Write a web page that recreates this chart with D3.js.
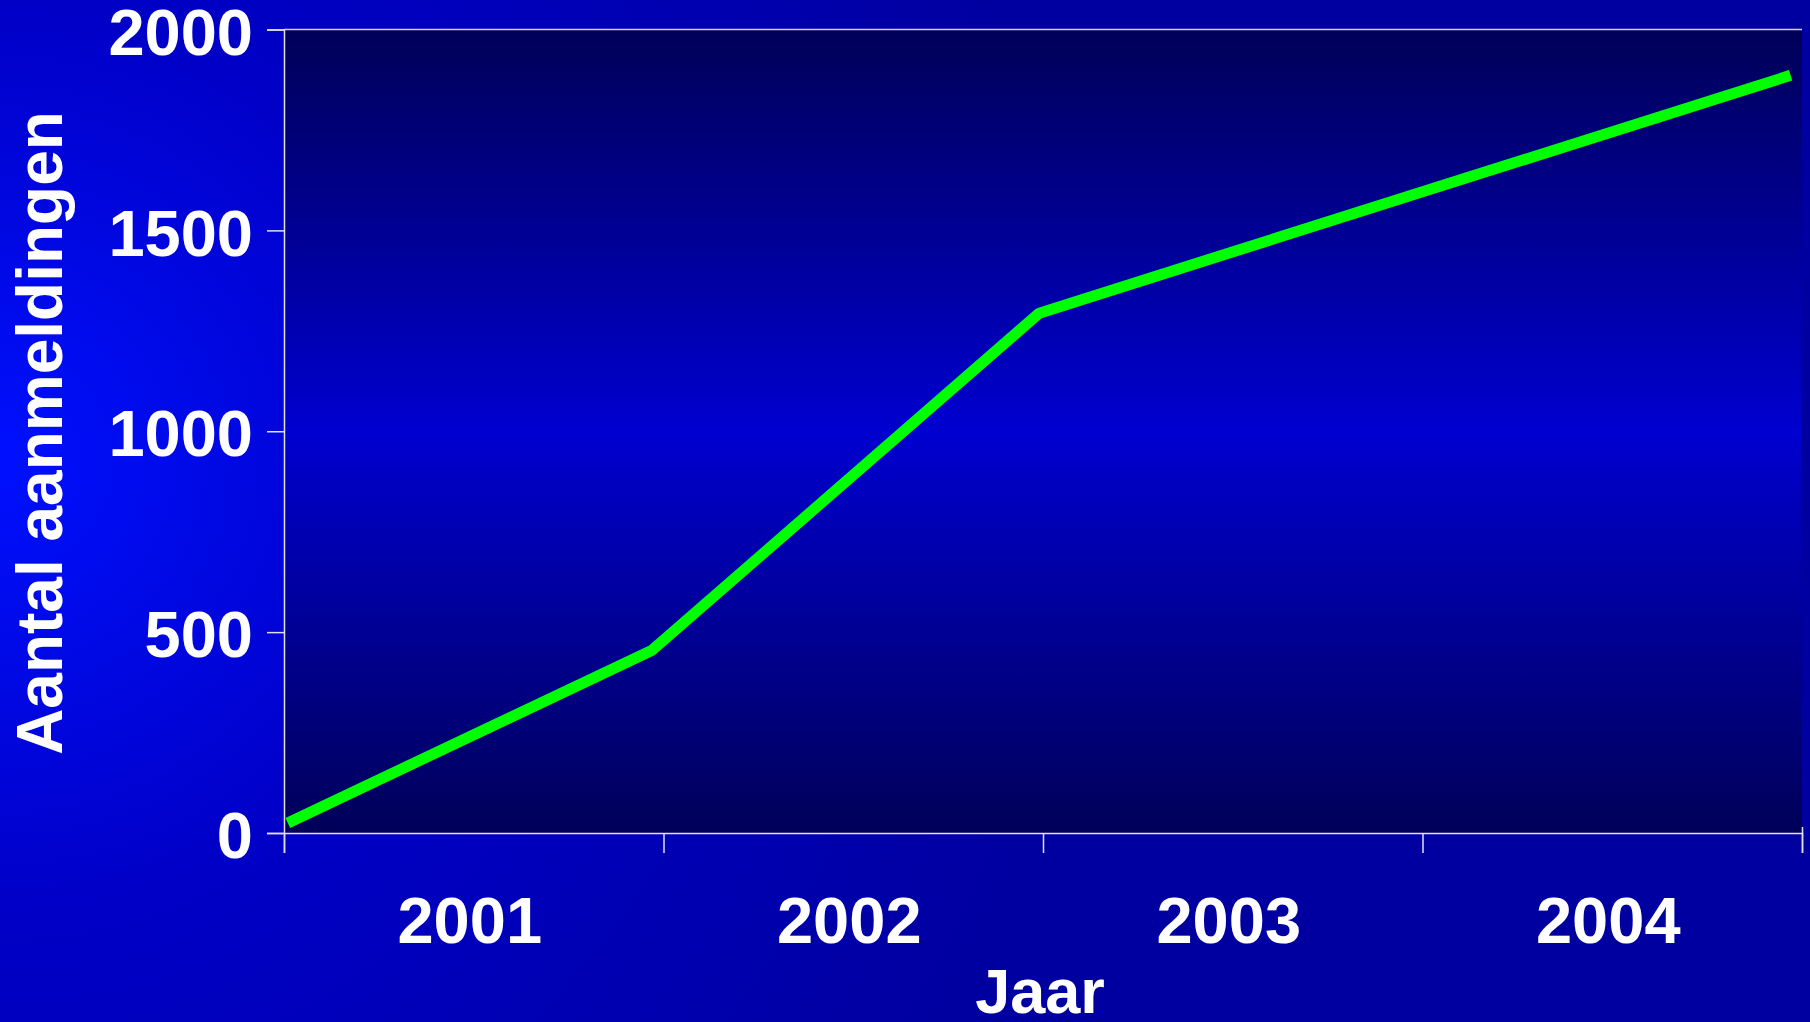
<!DOCTYPE html>
<html>
<head>
<meta charset="utf-8">
<script src="https://cdn.jsdelivr.net/npm/d3@7"></script>
<style>
  html, body { margin: 0; padding: 0; background: #0000a8; }
  svg { display: block; }
</style>
</head>
<body>
<div class="usable"></div>
<script>
// data
const jaren = [2001.01, 2001.97, 2002.99, 2004.97]
const aanmeldingen = [25, 455, 1294, 1886]
const jaarLabels = ["2001", "2002", "2003", "2004"]
const yTicks = [0, 500, 1000, 1500, 2000]

const width = 1810,
  height = 1022

const margin = { left: 284, right: 8, top: 29.5, bottom: 189 }

let svg = d3.select(".usable").append("svg")
  .attr("width", width)
  .attr("height", height)

let defs = svg.append("defs")

// achtergrond: licht aan de linkerkant
let bg = defs.append("radialGradient").attr("id", "bg")
  .attr("gradientUnits", "userSpaceOnUse")
  .attr("cx", 0).attr("cy", 460).attr("r", 1100)
bg.append("stop").attr("offset", "0%").attr("stop-color", "#0010ff")
bg.append("stop").attr("offset", "40%").attr("stop-color", "#0000c8")
bg.append("stop").attr("offset", "100%").attr("stop-color", "#0000a0")

// plotgebied: donker boven en onder
let pg = defs.append("linearGradient").attr("id", "plotbg")
  .attr("x1", 0).attr("y1", 0).attr("x2", 0).attr("y2", 1)
pg.append("stop").attr("offset", "0%").attr("stop-color", "#000058")
pg.append("stop").attr("offset", "50%").attr("stop-color", "#0000d0")
pg.append("stop").attr("offset", "100%").attr("stop-color", "#000058")

svg.append("rect").attr("width", width).attr("height", height).attr("fill", "url(#bg)")

const x = d3.scaleLinear()
  .domain([2001, 2005])
  .range([margin.left, width - margin.right])

const y = d3.scaleLinear()
  .domain([0, 2000])
  .range([height - margin.bottom, margin.top])

svg.append("rect")
  .attr("x", x(2001)).attr("y", y(2000))
  .attr("width", x(2005) - x(2001)).attr("height", y(0) - y(2000))
  .attr("fill", "url(#plotbg)")

// lijn bovenaan
svg.append("line")
  .attr("x1", x(2001)).attr("x2", x(2005))
  .attr("y1", y(2000)).attr("y2", y(2000))
  .attr("stroke", "#d0d0e8").attr("stroke-width", 1.5)

// y-as
let yAxis = svg.append("g")
  .attr("transform", "translate(" + x(2001) + ",0)")
  .call(d3.axisLeft(y).tickValues(yTicks).tickSize(17).tickPadding(14).tickFormat(d3.format("d")))
yAxis.select(".domain").attr("stroke", "#e0e0f0").attr("stroke-width", 1.5)
yAxis.selectAll(".tick line").attr("stroke", "#e0e0f0").attr("stroke-width", 1.5)
yAxis.selectAll("text")
  .attr("fill", "white")
  .attr("dy", "0.38em")
  .style("font-family", "'Liberation Sans', Arial, sans-serif")
  .style("font-weight", "bold")
  .style("font-size", "65px")

// x-as
let xAxis = svg.append("g")
  .attr("transform", "translate(0," + y(0) + ")")
  .call(d3.axisBottom(x).tickValues([2001, 2002, 2003, 2004, 2005]).tickSize(20).tickFormat(""))
xAxis.select(".domain").attr("stroke", "#e0e0f0").attr("stroke-width", 1.5)
xAxis.selectAll(".tick line").attr("stroke", "#e0e0f0").attr("stroke-width", 1.5)
xAxis.selectAll(".tick").filter(d => d === 2005).select("line").attr("y1", -6)

svg.append("g").selectAll("text")
  .data(jaarLabels)
  .join("text")
  .attr("x", d => x(+d + 0.5) - 4)
  .attr("y", 943)
  .attr("text-anchor", "middle")
  .attr("fill", "white")
  .style("font-family", "'Liberation Sans', Arial, sans-serif")
  .style("font-weight", "bold")
  .style("font-size", "65px")
  .text(d => d)

// lijn
const lijn = d3.line()
  .x((d, i) => x(jaren[i]))
  .y(d => y(d))

svg.append("path")
  .datum(aanmeldingen)
  .attr("d", lijn)
  .attr("fill", "none")
  .attr("stroke", "#00ff00")
  .attr("stroke-width", 11)
  .attr("stroke-linejoin", "round")

// astitels
svg.append("text")
  .attr("transform", "translate(62,433) rotate(-90)")
  .attr("text-anchor", "middle")
  .attr("fill", "white")
  .style("font-family", "'Liberation Sans', Arial, sans-serif")
  .style("font-weight", "bold")
  .style("font-size", "64px")
  .text("Aantal aanmeldingen")

svg.append("text")
  .attr("x", 1040)
  .attr("y", 1013)
  .attr("text-anchor", "middle")
  .attr("fill", "white")
  .style("font-family", "'Liberation Sans', Arial, sans-serif")
  .style("font-weight", "bold")
  .style("font-size", "63px")
  .text("Jaar")
</script>
</body>
</html>
